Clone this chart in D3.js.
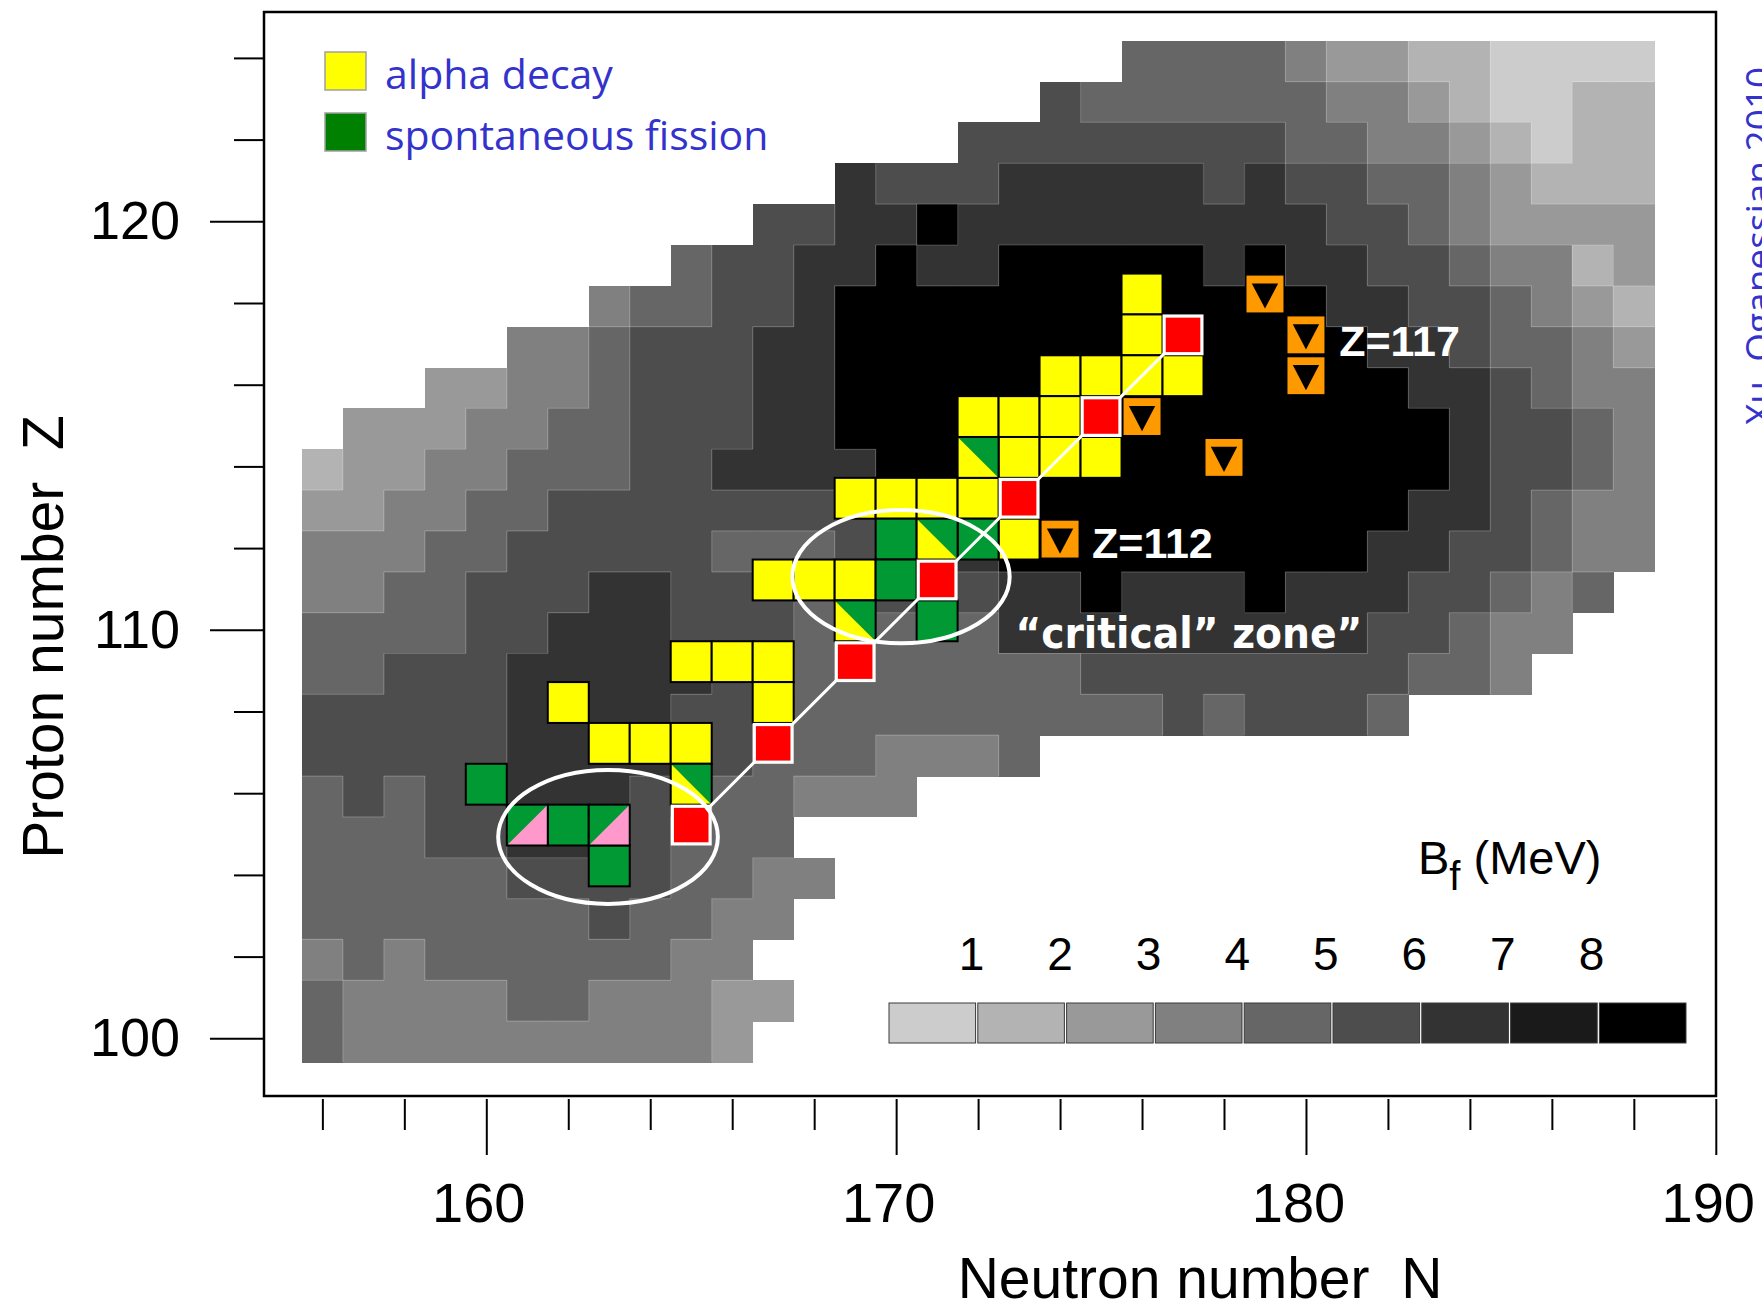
<!DOCTYPE html>
<html>
<head>
<meta charset="utf-8">
<script src="https://cdn.jsdelivr.net/npm/d3@7"></script>
<style>
  html, body { margin: 0; padding: 0; background: #fff; }
  svg { display: block; }
  text { white-space: pre; }
</style>
</head>
<body>
<svg id="chart" width="1762" height="1308"></svg>
<script>
// Fission barrier heights B_f on the N–Z plane, binned in 1 MeV classes (0 … 8).
// One string per proton number Z; character i belongs to neutron number N = nFirst + i,
// "." marks an empty position.
const nFirst = 156;
const zRows = [124, 123, 122, 121, 120, 119, 118, 117, 116, 115, 114, 113, 112,
               111, 110, 109, 108, 107, 106, 105, 104, 103, 102, 101, 100];
const bfRows = [
  "....................4444322110000",
  "..................544444433210011",
  "................55555555443321011",
  ".............65556666656554432111",
  "...........5566866666666655432222",
  ".........455668668888868665543312",
  ".......34455688888888888866554321",
  ".....3345556688888888888886654432",
  "...223345556688888888888888665433",
  ".22233445556688888888888888865543",
  "122334445566668888888888888865543",
  "223344555555558888888888888665433",
  "333445555544456668888888886655433",
  "33445556655545555668666866655434",
  "4444556665554444466666666655433",
  "445556666655444444455555555443",
  "555556666554444444444545554",
  "555556666554443334",
  "454556665544333",
  "444556665444",
  "4444455554433",
  "444444454433",
  "34344444433",
  "433334433322",
  "43333333332"
];

// Colour classes of the barrier scale
const bfBreaks = [1, 2, 3, 4, 5, 6, 7, 8];
const bfGrays = ["#cccccc", "#b3b3b3", "#999999", "#808080", "#666666",
                 "#4d4d4d", "#333333", "#1a1a1a", "#000000"];
const bfLabels = ["1", "2", "3", "4", "5", "6", "7", "8"];

// Axis ticks
const xTicks = d3.range(156, 191, 2);
const xMajor = [160, 170, 180, 190];
const yTicks = d3.range(100, 125, 2);
const yMajor = [100, 110, 120];

// Observed nuclei, [N, Z]
const alphaDecay = [
  [176, 118], [176, 117], [174, 116], [175, 116], [176, 116], [177, 116],
  [172, 115], [173, 115], [174, 115], [173, 114], [174, 114], [175, 114],
  [169, 113], [170, 113], [171, 113], [172, 113], [173, 112],
  [167, 111], [168, 111], [169, 111], [165, 109], [166, 109], [167, 109],
  [162, 108], [167, 108], [163, 107], [164, 107], [165, 107]
];
const spontFission = [[170, 112], [172, 112], [170, 111], [171, 110], [160, 106], [162, 105], [163, 104]];
const alphaAndFission = [[172, 114], [171, 112], [169, 110], [165, 106]];
const fissionAndPink = [[161, 105], [163, 105]];
const chain117 = [[177, 117], [175, 115], [173, 113], [171, 111], [169, 109], [167, 107], [165, 105]];
const orangeMarks = [[179, 118], [180, 117], [180, 116], [176, 115], [178, 114], [174, 112]];

// Encircled regions (centre and half-axes in N/Z units)
const zones = [
  { n: 170.12, z: 111.30, rn: 2.65, rz: 1.63 },
  { n: 162.97, z: 104.93, rn: 2.68, rz: 1.64 }
];
const zLabels = [
  { text: "Z=117", n: 180.81, z: 116.70 },
  { text: "Z=112", n: 174.78, z: 111.75 }
];
const zoneLabel = { text: "\u201Ccritical\u201D zone\u201D", n: 172.91, z: 109.55 };

const svg = d3.select("#chart");
const FONT = "'Liberation Sans', Arial, Helvetica, sans-serif";

const x = d3.scaleLinear().domain([160, 190]).range([486.3, 1715.8]);
const y = d3.scaleLinear().domain([100, 120]).range([1038.3, 221.3]);
const cw = x(161) - x(160);
const ch = y(100) - y(101);
const color = d3.scaleThreshold().domain(bfBreaks).range(bfGrays);

// ---- barrier map ----
const cells = [];
const bfAt = new Map();
zRows.forEach((z, r) => {
  [...bfRows[r]].forEach((c, i) => {
    if (c !== ".") {
      cells.push({ n: nFirst + i, z: z, bf: +c });
      bfAt.set(`${nFirst + i},${z}`, +c);
    }
  });
});
const rowTop = z => y(z + 0.42);
const rowBottom = z => y(z - 0.58);
svg.append("g").selectAll("rect").data(cells).join("rect")
  .attr("x", d => x(d.n - 0.5))
  .attr("y", d => rowTop(d.z))
  .attr("width", cw + 0.6)
  .attr("height", ch + 0.6)
  .attr("fill", d => color(d.bf))
  .attr("shape-rendering", "crispEdges");

// thin light seams where the barrier class changes
const seams = [];
cells.forEach(d => {
  const right = bfAt.get(`${d.n + 1},${d.z}`);
  if (right !== undefined && right !== d.bf)
    seams.push([x(d.n + 0.5), rowTop(d.z), x(d.n + 0.5), rowBottom(d.z)]);
  const below = bfAt.get(`${d.n},${d.z - 1}`);
  if (below !== undefined && below !== d.bf)
    seams.push([x(d.n - 0.5), rowBottom(d.z), x(d.n + 0.5), rowBottom(d.z)]);
});
svg.append("g").selectAll("line").data(seams).join("line")
  .attr("x1", d => d[0]).attr("y1", d => d[1])
  .attr("x2", d => d[2]).attr("y2", d => d[3])
  .attr("stroke", "#ffffff").attr("stroke-opacity", 0.2).attr("stroke-width", 1.2);

// ---- plot frame ----
svg.append("rect")
  .attr("x", 264).attr("y", 12).attr("width", 1452).attr("height", 1084)
  .attr("fill", "none").attr("stroke", "#000").attr("stroke-width", 2.5);

// ---- axes ----
function styleAxis(g, size) {
  g.select(".domain").remove();
  g.selectAll("line").attr("stroke", "#000").attr("stroke-width", 2);
  g.selectAll("text").attr("font-family", FONT).attr("font-size", size).attr("fill", "#000");
}
const gyMinor = svg.append("g").attr("transform", "translate(264,0)")
  .call(d3.axisLeft(y).tickValues(yTicks.filter(t => !yMajor.includes(t))).tickSize(30).tickFormat(""));
styleAxis(gyMinor, 54);
const gyMajor = svg.append("g").attr("transform", "translate(264,0)")
  .call(d3.axisLeft(y).tickValues(yMajor).tickSize(54).tickPadding(30).tickFormat(d3.format("d")));
styleAxis(gyMajor, 54);

const gxMinor = svg.append("g").attr("transform", "translate(0,1099)")
  .call(d3.axisBottom(x).tickValues(xTicks.filter(t => !xMajor.includes(t))).tickSize(31).tickFormat(""));
styleAxis(gxMinor, 56);
const gxMajor = svg.append("g").attr("transform", "translate(0,1099)")
  .call(d3.axisBottom(x).tickValues(xMajor).tickSize(56).tickPadding(27).tickFormat(d3.format("d")));
styleAxis(gxMajor, 56);
gxMajor.selectAll("text").attr("dx", -8);

svg.append("text")
  .attr("x", 1200).attr("y", 1298).attr("text-anchor", "middle")
  .attr("font-family", FONT).attr("font-size", 57)
  .text("Neutron number  N");
svg.append("text")
  .attr("transform", "translate(63,637) rotate(-90)").attr("text-anchor", "middle")
  .attr("font-family", FONT).attr("font-size", 57)
  .text("Proton number  Z");

// ---- observed nuclei ----
const oy = 0.22;   // vertical placement of the nucleus markers within a row
const cx = d => x(d[0]);
const cy = d => y(d[1] + oy);
const marks = svg.append("g");

function squares(data, fill) {
  marks.append("g").selectAll("rect").data(data).join("rect")
    .attr("x", d => cx(d) - cw / 2).attr("y", d => cy(d) - ch / 2)
    .attr("width", cw).attr("height", ch)
    .attr("fill", fill).attr("stroke", "#000").attr("stroke-width", 2);
}
squares(alphaDecay, "#ffff00");
squares(spontFission, "#009933");

// split squares: yellow lower-left half, green upper-right half
const splitA = marks.append("g").selectAll("g").data(alphaAndFission).join("g");
splitA.append("rect")
  .attr("x", d => cx(d) - cw / 2).attr("y", d => cy(d) - ch / 2)
  .attr("width", cw).attr("height", ch).attr("fill", "#009933");
splitA.append("path")
  .attr("d", d => {
    const l = cx(d) - cw / 2, t = cy(d) - ch / 2;
    return `M${l},${t}L${l},${t + ch}L${l + cw},${t + ch}Z`;
  })
  .attr("fill", "#ffff00");
splitA.append("rect")
  .attr("x", d => cx(d) - cw / 2).attr("y", d => cy(d) - ch / 2)
  .attr("width", cw).attr("height", ch)
  .attr("fill", "none").attr("stroke", "#000").attr("stroke-width", 2);

// split squares: green upper-left half, pink lower-right half
const splitP = marks.append("g").selectAll("g").data(fissionAndPink).join("g");
splitP.append("rect")
  .attr("x", d => cx(d) - cw / 2).attr("y", d => cy(d) - ch / 2)
  .attr("width", cw).attr("height", ch).attr("fill", "#009933");
splitP.append("path")
  .attr("d", d => {
    const l = cx(d) - cw / 2, t = cy(d) - ch / 2;
    return `M${l},${t + ch}L${l + cw},${t + ch}L${l + cw},${t}Z`;
  })
  .attr("fill", "#ff99cc");
splitP.append("rect")
  .attr("x", d => cx(d) - cw / 2).attr("y", d => cy(d) - ch / 2)
  .attr("width", cw).attr("height", ch)
  .attr("fill", "none").attr("stroke", "#000").attr("stroke-width", 2);

// orange markers with a down-pointing triangle
const om = marks.append("g").selectAll("g").data(orangeMarks).join("g")
  .attr("transform", d => `translate(${cx(d)},${cy(d)})`);
om.append("rect")
  .attr("x", -cw / 2 + 2).attr("y", -ch / 2 + 2)
  .attr("width", cw - 4).attr("height", ch - 4)
  .attr("fill", "#ff9900");
om.append("path").attr("d", "M-13.2,-10.6L13.2,-10.6L0,14.6Z").attr("fill", "#000");

// decay chain of Z=117
marks.append("path")
  .datum(chain117)
  .attr("d", d3.line().x(cx).y(cy))
  .attr("fill", "none").attr("stroke", "#fff").attr("stroke-width", 3);
marks.append("g").selectAll("rect").data(chain117).join("rect")
  .attr("x", d => cx(d) - cw / 2 + 1.6).attr("y", d => cy(d) - ch / 2 + 1.6)
  .attr("width", cw - 3.2).attr("height", ch - 3.2)
  .attr("fill", "#ff0000").attr("stroke", "#fff").attr("stroke-width", 3.2);

// encircled zones
svg.append("g").selectAll("ellipse").data(zones).join("ellipse")
  .attr("cx", d => x(d.n)).attr("cy", d => y(d.z))
  .attr("rx", d => x(d.n + d.rn) - x(d.n)).attr("ry", d => y(d.z - d.rz) - y(d.z))
  .attr("fill", "none").attr("stroke", "#fff").attr("stroke-width", 4);

// annotations
svg.append("g").selectAll("text").data(zLabels).join("text")
  .attr("x", d => x(d.n)).attr("y", d => y(d.z))
  .attr("font-family", FONT).attr("font-weight", "bold").attr("font-size", 43)
  .attr("fill", "#fff").text(d => d.text);
svg.append("text")
  .attr("x", x(zoneLabel.n)).attr("y", y(zoneLabel.z))
  .attr("font-family", "'DejaVu Sans', sans-serif").attr("font-weight", "bold").attr("font-size", 42)
  .attr("textLength", 347).attr("lengthAdjust", "spacingAndGlyphs")
  .attr("fill", "#fff").text(zoneLabel.text);

// ---- legend ----
const LEG_FONT = "'Open Sans', 'Noto Sans', sans-serif";
const legend = [
  { label: "alpha decay", fill: "#ffff00", y: 52 },
  { label: "spontaneous fission", fill: "#008000", y: 113 }
];
const lg = svg.append("g").selectAll("g").data(legend).join("g");
lg.append("rect")
  .attr("x", 325).attr("y", d => d.y).attr("width", 41).attr("height", 38)
  .attr("fill", d => d.fill).attr("stroke", "#a0a0a0").attr("stroke-width", 1.5);
lg.append("text")
  .attr("x", 385).attr("y", d => d.y + 37)
  .attr("font-family", LEG_FONT).attr("font-size", 41).attr("fill", "#3333cc")
  .text(d => d.label);

// source note along the right edge
svg.append("text")
  .attr("transform", "translate(1772,425) rotate(-90)")
  .attr("font-family", LEG_FONT).attr("font-size", 37).attr("fill", "#3333cc")
  .text("Xu, Oganessian 2010");

// ---- barrier colour scale ----
const cb = d3.scaleBand().domain(d3.range(bfGrays.length)).range([889, 1686]).paddingInner(0.025);
const cbLin = d3.scaleLinear().domain([0, bfGrays.length]).range([889, 1686]);
svg.append("g").selectAll("rect").data(bfGrays).join("rect")
  .attr("x", (d, i) => cb(i)).attr("y", 1003)
  .attr("width", cb.bandwidth()).attr("height", 40)
  .attr("fill", d => d).attr("stroke", "#3a3a3a").attr("stroke-width", 1);
svg.append("g").selectAll("text").data(bfLabels).join("text")
  .attr("x", (d, i) => cbLin(bfBreaks[i]) - 6).attr("y", 970)
  .attr("text-anchor", "middle")
  .attr("font-family", FONT).attr("font-size", 46)
  .text(d => d);

const bfTitle = svg.append("text")
  .attr("x", 1418).attr("y", 874)
  .attr("font-family", FONT).attr("font-size", 47);
bfTitle.append("tspan").text("B");
bfTitle.append("tspan").attr("dy", 16).attr("font-size", 40).text("f");
bfTitle.append("tspan").attr("dy", -16).text(" (MeV)");
</script>
</body>
</html>
